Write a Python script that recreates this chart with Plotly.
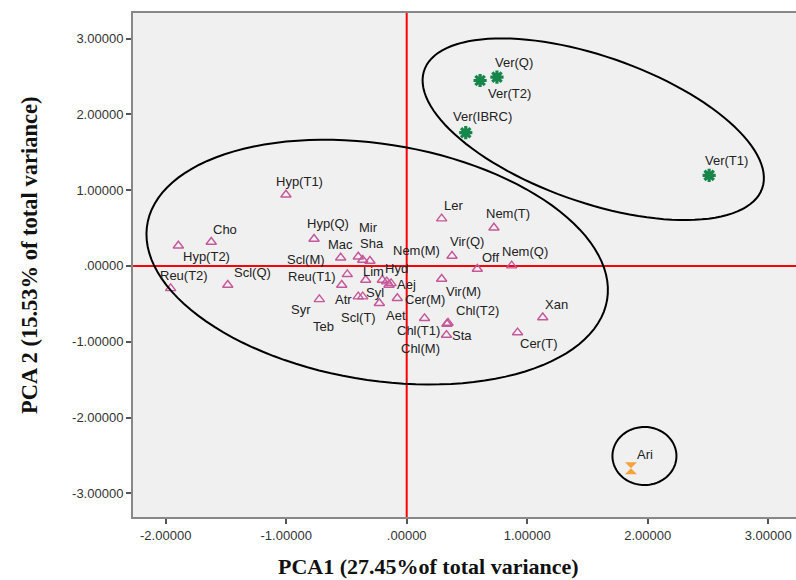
import numpy as np
import plotly.graph_objects as go

# ---------------- data ----------------
tri_labels = ["Reu(T2)", "Hyp(T2)", "Cho", "Scl(Q)", "Hyp(T1)", "Hyp(Q)", "Syr", "Scl(M)", "Mac",
              "Mir", "Sha", "Reu(T1)", "Teb", "Lim", "Hyd", "Nem(M)", "Aej", "Syl", "Atr",
              "Scl(T)", "Aet", "Cer(M)", "Chl(T1)", "Chl(T2)", "Chl(M)", "Sta", "Cer(T)", "Xan",
              "Ler", "Nem(T)", "Vir(Q)", "Off", "Nem(Q)", "Vir(M)"]
tri_pca1 = [-1.959, -1.895, -1.622, -1.485, -1.002, -0.769, -0.725, -0.548, -0.402,
            -0.365, -0.305, -0.493, -0.539, -0.340, -0.202, -0.166, -0.130, -0.147, -0.402,
            -0.365, -0.227, -0.078, 0.148, 0.343, 0.334, 0.330, 0.920, 1.129,
            0.290, 0.724, 0.376, 0.586, 0.871, 0.290]
tri_pca2 = [-0.296, 0.266, 0.315, -0.252, 0.939, 0.355, -0.441, 0.108, 0.121,
            0.078, 0.065, -0.111, -0.252, -0.186, -0.186, -0.208, -0.230, -0.252, -0.406,
            -0.406, -0.493, -0.427, -0.691, -0.753, -0.766, -0.912, -0.879, -0.681,
            0.623, 0.504, 0.131, -0.041, 0.003, -0.173]

ver_labels = ["Ver(Q)", "Ver(T2)", "Ver(IBRC)", "Ver(T1)"]
ver_pca1 = [0.749, 0.609, 0.490, 2.510]
ver_pca2 = [2.491, 2.446, 1.757, 1.195]

ari_labels = ["Ari"]
ari_pca1 = [1.861]
ari_pca2 = [-2.670]

tick_vals_x = [-2, -1, 0, 1, 2, 3]
tick_text_x = ["-2.00000", "-1.00000", ".00000", "1.00000", "2.00000", "3.00000"]
tick_vals_y = [-3, -2, -1, 0, 1, 2, 3]
tick_text_y = ["-3.00000", "-2.00000", "-1.00000", ".00000", "1.00000", "2.00000", "3.00000"]

x_title = "PCA1 (27.45%of total variance)"
y_title = "PCA 2 (15.53% of total variance)"

# ---------------- style / layout ----------------
W, H = 796, 580
ML, MR, MT, MB = 133, 0, 13, 63
XR = [-2.2714, 3.2307]
YR = [-3.3127, 3.3364]
pw, ph = W - ML - MR, H - MT - MB
px_x = pw / (XR[1] - XR[0])
px_y = ph / (YR[1] - YR[0])

# label offsets in pixels (dx right, dy down)
default_off = (14, -13)
label_off = {
    "Reu(T2)": (13, -13), "Hyp(T2)": (28, 11), "Cho": (14, -13), "Scl(Q)": (25, -13),
    "Hyp(T1)": (14, -13), "Hyp(Q)": (14, -15), "Syr": (-18, 10), "Scl(M)": (-35, 2),
    "Mac": (-18, -12), "Mir": (6, -32), "Sha": (2, -17), "Reu(T1)": (-35, 2),
    "Teb": (-18, 41), "Lim": (8, -9), "Hyd": (14, -12), "Nem(M)": (30, -31),
    "Aej": (15, 1), "Syl": (-14, 7), "Atr": (-15, 3), "Scl(T)": (-4, 21),
    "Aet": (17, 12), "Cer(M)": (28, 1), "Chl(T1)": (-6, 12), "Chl(T2)": (29, -12),
    "Chl(M)": (-26, 25), "Sta": (16, 0), "Cer(T)": (21, 11), "Xan": (14, -13),
    "Ler": (12, -13), "Nem(T)": (14, -14), "Vir(Q)": (15, -14), "Off": (13, -12),
    "Nem(Q)": (13, -14), "Vir(M)": (22, 12),
    "Ver(Q)": (17, -15), "Ver(T2)": (29, 13), "Ver(IBRC)": (17, -16), "Ver(T1)": (17, -15),
    "Ari": (14, -14),
}

LABEL_FONT = dict(family="Liberation Sans, Arial, sans-serif", size=13, color="#222222")

fig = go.Figure()
fig.add_trace(go.Scatter(x=tri_pca1, y=tri_pca2, mode="markers", text=tri_labels,
                         marker=dict(symbol="triangle-up-open", size=9, color="#C4589A",
                                     line=dict(width=1.4, color="#C4589A"))))
fig.add_trace(go.Scatter(x=ver_pca1, y=ver_pca2, mode="markers", text=ver_labels,
                         marker=dict(symbol="asterisk-open", size=11, color="#17864A",
                                     line=dict(width=3.2, color="#17864A"))))
fig.add_trace(go.Scatter(x=ari_pca1, y=ari_pca2, mode="markers", text=ari_labels,
                         marker=dict(symbol="hourglass", size=12, color="#F4A23A",
                                     line=dict(width=0))))

annotations = []
for labs, xs, ys in [(tri_labels, tri_pca1, tri_pca2), (ver_labels, ver_pca1, ver_pca2),
                     (ari_labels, ari_pca1, ari_pca2)]:
    for lab, xv, yv in zip(labs, xs, ys):
        dx, dy = label_off.get(lab, default_off)
        annotations.append(dict(x=xv, y=yv, xref="x", yref="y", text=lab, showarrow=False,
                                xshift=dx, yshift=-dy, font=LABEL_FONT,
                                xanchor="center", yanchor="middle"))

annotations.append(dict(text=f"<b>{x_title}</b>", xref="paper", yref="paper",
                        x=(428 - ML) / pw, y=(H - MB - 566) / ph, showarrow=False,
                        xanchor="center", yanchor="middle",
                        font=dict(family="Liberation Serif, Times New Roman, serif", size=22, color="#111")))
annotations.append(dict(text=f"<b>{y_title}</b>", xref="paper", yref="paper",
                        x=(30 - ML) / pw, y=(H - MB - 256) / ph, showarrow=False, textangle=-90,
                        xanchor="center", yanchor="middle",
                        font=dict(family="Liberation Serif, Times New Roman, serif", size=22.5, color="#111")))


def ellipse_path(cx, cy, a_px, b_px, ang_deg, n=120):
    th = np.deg2rad(ang_deg)
    t = np.linspace(0, 2 * np.pi, n)
    sx = a_px * np.cos(t) * np.cos(th) - b_px * np.sin(t) * np.sin(th)
    sy = a_px * np.cos(t) * np.sin(th) + b_px * np.sin(t) * np.cos(th)
    xs = cx + sx / px_x
    ys = cy - sy / px_y
    return "M " + " L ".join(f"{a:.4f},{b:.4f}" for a, b in zip(xs, ys)) + " Z"


# ellipse groups: center (data units), semi-axes (px), rotation (deg, clockwise on screen)
ellipses = [(-0.245, 0.05, 233, 118, 9.3),
            (1.548, 1.803, 179, 73, 19.3),
            (1.973, -2.508, 32, 29, 0)]

shapes = [
    dict(type="line", xref="x", yref="paper", x0=0, x1=0, y0=0, y1=1,
         line=dict(color="#FF0000", width=2), layer="below"),
    dict(type="line", xref="paper", yref="y", x0=0, x1=1, y0=0, y1=0,
         line=dict(color="#FF0000", width=2), layer="below"),
]
for cx, cy, a, b, ang in ellipses:
    shapes.append(dict(type="path", xref="x", yref="y", path=ellipse_path(cx, cy, a, b, ang),
                       line=dict(color="#000000", width=2), layer="above"))

axis_common = dict(showgrid=False, zeroline=False, ticks="outside", ticklen=5, tickwidth=1.5,
                   tickcolor="#555555", showline=True, linecolor="#888888", linewidth=2,
                   tickfont=dict(family="Liberation Sans, Arial, sans-serif", size=13, color="#333333"))

fig.update_layout(
    width=W, height=H, margin=dict(l=ML, r=MR, t=MT, b=MB, autoexpand=False),
    paper_bgcolor="white", plot_bgcolor="#F0F0F0", showlegend=False,
    xaxis=dict(range=XR, tickvals=tick_vals_x, ticktext=tick_text_x, mirror=True, **axis_common),
    yaxis=dict(range=YR, tickvals=tick_vals_y, ticktext=tick_text_y, **axis_common),
    annotations=annotations, shapes=shapes,
)

fig.write_html("out.html", config={"displayModeBar": False},
               post_script="document.body.style.margin='0px';document.body.style.padding='0px';"
                           "document.body.style.overflow='hidden';")
